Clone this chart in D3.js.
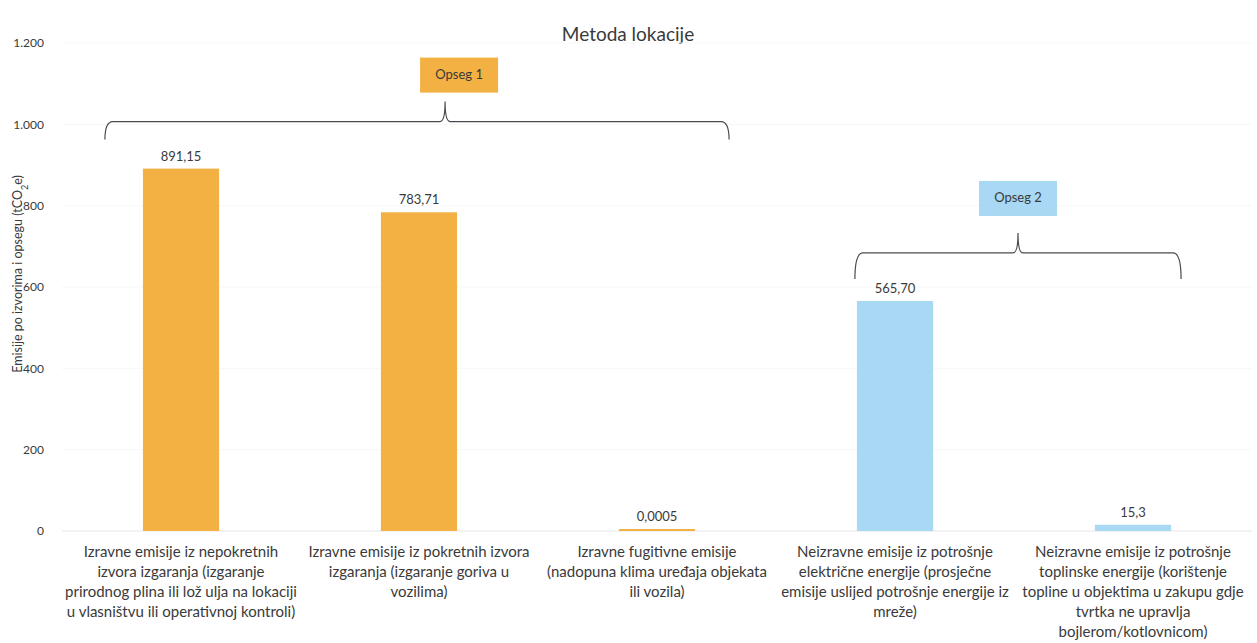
<!DOCTYPE html>
<html>
<head>
<meta charset="utf-8">
<script src="https://cdn.jsdelivr.net/npm/d3@7"></script>
<style>
  body { margin: 0; background: #fff; }
  text { font-family: Lato, "Open Sans", sans-serif; fill: #3a3a3a; }
</style>
</head>
<body>
<script>
var categories = [
  "Izravne emisije iz nepokretnih|izvora izgaranja (izgaranje|prirodnog plina ili lož ulja na lokaciji|u vlasništvu ili operativnoj kontroli)",
  "Izravne emisije iz pokretnih izvora|izgaranja (izgaranje goriva u|vozilima)",
  "Izravne fugitivne emisije|(nadopuna klima uređaja objekata|ili vozila)",
  "Neizravne emisije iz potrošnje|električne energije (prosječne|emisije uslijed potrošnje energije iz|mreže)",
  "Neizravne emisije iz potrošnje|toplinske energije (korištenje|topline u objektima u zakupu gdje|tvrtka ne upravlja|bojlerom/kotlovnicom)"
];
var values = [891.15, 783.71, 0.0005, 565.70, 15.3];
var valueLabels = ["891,15", "783,71", "0,0005", "565,70", "15,3"];
var scopes = [1, 1, 1, 2, 2];
var yTicks = [0, 200, 400, 600, 800, 1000, 1200];
var yTickLabels = ["0", "200", "400", "600", "800", "1.000", "1.200"];
var groups = [
  {name: "Opseg 1", first: 0, last: 2},
  {name: "Opseg 2", first: 3, last: 4}
];

var width = 1257, height = 643;
var colors = {1: "#f4b143", 2: "#a8d8f4"};

var svg = d3.select("body").append("svg")
  .attr("width", width)
  .attr("height", height);

var x = d3.scaleBand()
  .domain(d3.range(categories.length))
  .range([62, 1252])
  .paddingInner(0.68)
  .paddingOuter(0.34);

var y = d3.scaleLinear()
  .domain([0, 1200])
  .range([531, 43]);

// title
svg.append("text")
  .attr("x", 628).attr("y", 41)
  .attr("text-anchor", "middle")
  .style("font-size", "19px")
  .text("Metoda lokacije");

// faint gridlines
svg.append("g").selectAll("line")
  .data(yTicks)
  .join("line")
  .attr("x1", 62).attr("x2", 1252)
  .attr("y1", d => y(d)).attr("y2", d => y(d))
  .attr("stroke", d => d === 0 ? "#e6e6e6" : "#f7f7f7")
  .attr("stroke-width", 1);

// y axis
var yAxis = d3.axisLeft(y)
  .tickValues(yTicks)
  .tickFormat((d, i) => yTickLabels[i])
  .tickSize(0)
  .tickPadding(0);

var ya = svg.append("g")
  .attr("transform", "translate(44,0)")
  .call(yAxis);
ya.select(".domain").remove();
ya.selectAll("text")
  .style("font-size", "12px")
  .style("font-family", "Lato, sans-serif")
  .attr("fill", "#3a3a3a");

// y label
var yl = svg.append("text")
  .attr("transform", "translate(22,274) rotate(-90)")
  .attr("text-anchor", "middle")
  .style("font-size", "12.5px");
yl.append("tspan").text("Emisije po izvorima i opsegu (tCO");
yl.append("tspan").attr("baseline-shift", "sub").style("font-size", "9px").text("2");
yl.append("tspan").text("e)");

// bars
svg.append("g").selectAll("rect")
  .data(values)
  .join("rect")
  .attr("x", (d, i) => x(i))
  .attr("width", x.bandwidth())
  .attr("y", d => Math.min(y(d), y(0) - 2))
  .attr("height", d => Math.max(y(0) - y(d), 2))
  .attr("fill", (d, i) => colors[scopes[i]]);

// value labels
svg.append("g").selectAll("text")
  .data(values)
  .join("text")
  .attr("x", (d, i) => x(i) + x.bandwidth() / 2)
  .attr("y", d => Math.min(y(d), y(0) - 2) - 8)
  .attr("text-anchor", "middle")
  .style("font-size", "13px")
  .text((d, i) => valueLabels[i]);

// category labels
var cl = svg.append("g").selectAll("text")
  .data(categories)
  .join("text")
  .attr("x", (d, i) => x(i) + x.bandwidth() / 2)
  .attr("y", 557)
  .attr("text-anchor", "middle")
  .style("font-size", "15px");
cl.selectAll("tspan")
  .data(d => d.split("|"))
  .join("tspan")
  .attr("x", function() { return this.parentNode.getAttribute("x"); })
  .attr("dy", (d, i) => i === 0 ? 0 : 20)
  .text(d => d);

// braces and scope boxes
var bracePad = [[38, 34], [2, 10]];
var braceOff = [47, 48];
var braceMid = [0.545, 0.5];
var boxShift = [14, 0];
var boxOff = [111, 120];
groups.forEach(function(g, gi) {
  var x0 = x(g.first) - bracePad[gi][0];
  var x1 = x(g.last) + x.bandwidth() + bracePad[gi][1];
  var maxV = d3.max(values.slice(g.first, g.last + 1));
  var by = y(maxV) - braceOff[gi];
  var drop = gi === 0 ? 18 : 26;
  var mid = x0 + (x1 - x0) * braceMid[gi];
  var path = "M" + x0 + "," + (by + drop) +
    " Q" + x0 + "," + by + " " + (x0 + 8) + "," + by +
    " L" + (mid - 5) + "," + by +
    " Q" + mid + "," + by + " " + mid + "," + (by - 20) +
    " Q" + mid + "," + by + " " + (mid + 5) + "," + by +
    " L" + (x1 - 8) + "," + by +
    " Q" + x1 + "," + by + " " + x1 + "," + (by + drop);
  svg.append("path")
    .attr("d", path)
    .attr("fill", "none")
    .attr("stroke", "#4a4a50")
    .attr("stroke-width", 1.2);
  var bw = 78, bh = 35;
  var bcx = mid + boxShift[gi];
  var bty = y(maxV) - boxOff[gi];
  svg.append("rect")
    .attr("x", bcx - bw / 2).attr("y", bty)
    .attr("width", bw).attr("height", bh)
    .attr("fill", colors[gi + 1]);
  svg.append("text")
    .attr("x", bcx).attr("y", bty + bh / 2 + 4)
    .attr("text-anchor", "middle")
    .style("font-size", "13px")
    .text(g.name);
});
</script>
</body>
</html>
